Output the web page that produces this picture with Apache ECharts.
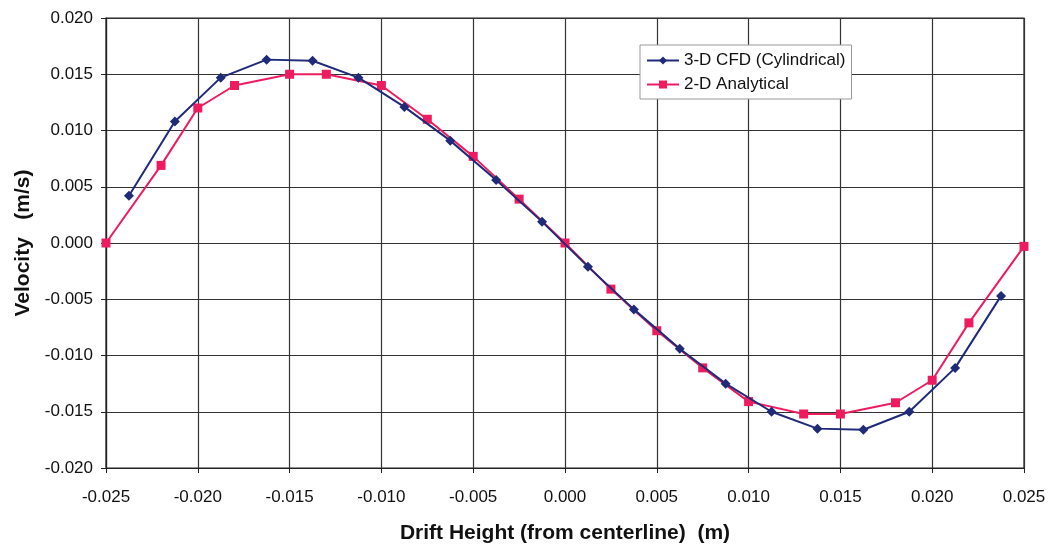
<!DOCTYPE html>
<html>
<head>
<meta charset="utf-8">
<script src="https://cdn.jsdelivr.net/npm/echarts@6/dist/echarts.min.js"></script>
<style>
  html, body { margin: 0; padding: 0; background: #ffffff; }
  #chart { width: 1051px; height: 550px; }
</style>
</head>
<body>
<div id="chart"></div>
<script>
// Drift height positions (m) and velocities (m/s)
const cfdHeight = [-0.02375, -0.02125, -0.01875, -0.01625, -0.01375, -0.01125, -0.00875, -0.00625, -0.00375, -0.00125,
                   0.00125, 0.00375, 0.00625, 0.00875, 0.01125, 0.01375, 0.01625, 0.01875, 0.02125, 0.02375];
const cfdVelocity = [0.0042, 0.0108, 0.0147, 0.0163, 0.0162, 0.0147, 0.0121, 0.0091, 0.0056, 0.0019,
                     -0.0021, -0.0059, -0.0094, -0.0125, -0.0150, -0.0165, -0.0166, -0.0150, -0.0111, -0.0047];

const analyticalHeight = [-0.025, -0.022, -0.020, -0.018, -0.015, -0.013, -0.010, -0.0075, -0.005, -0.0025, 0,
                          0.0025, 0.005, 0.0075, 0.010, 0.013, 0.015, 0.018, 0.020, 0.022, 0.025];
const analyticalVelocity = [0.0000, 0.0069, 0.0120, 0.0140, 0.0150, 0.0150, 0.0140, 0.0110, 0.0077, 0.0039, 0.0000,
                            -0.0041, -0.0078, -0.0111, -0.0141, -0.0152, -0.0152, -0.0142, -0.0122, -0.0071, -0.0003];

const seriesNames = ['3-D CFD (Cylindrical)', '2-D Analytical'];
const xTitle = 'Drift Height (from centerline)  (m)';
const yTitle = 'Velocity   (m/s)';

const pairs = (xs, ys) => xs.map((x, i) => [x, ys[i]]);
const fmt = v => v.toFixed(3);

const chart = echarts.init(document.getElementById('chart'));
const font = 'Liberation Sans, Arial, sans-serif';

chart.setOption({
  backgroundColor: '#ffffff',
  animation: false,
  grid: {
    left: 106, right: 27, top: 18, bottom: 82,
    outerBoundsMode: 'none',
    containLabel: false,
    show: true, borderColor: '#222', borderWidth: 1.2
  },
  legend: {
    left: 640, top: 45,
    orient: 'vertical',
    itemGap: 7,
    itemWidth: 32, itemHeight: 10,
    padding: [7, 6, 6, 6],
    backgroundColor: '#ffffff',
    borderColor: '#999',
    borderWidth: 1,
    textStyle: { fontFamily: font, fontSize: 17, color: '#111' },
    data: seriesNames
  },
  xAxis: {
    type: 'value',
    min: -0.025, max: 0.025, interval: 0.005,
    name: xTitle,
    nameLocation: 'middle',
    nameGap: 55,
    nameTextStyle: { fontFamily: font, fontSize: 21, fontWeight: 'bold', color: '#111' },
    axisLine: { show: true, onZero: false, lineStyle: { color: '#222', width: 1.2 } },
    axisTick: { show: true, length: 5, lineStyle: { color: '#222' } },
    axisLabel: { fontFamily: font, fontSize: 17, color: '#111', margin: 21, formatter: fmt },
    splitLine: { show: true, lineStyle: { color: '#333', width: 1.2 } }
  },
  yAxis: {
    type: 'value',
    min: -0.02, max: 0.02, interval: 0.005,
    name: yTitle,
    nameLocation: 'middle',
    nameGap: 71,
    nameTextStyle: { fontFamily: font, fontSize: 21, fontWeight: 'bold', color: '#111' },
    axisLine: { show: true, onZero: false, lineStyle: { color: '#222', width: 1.2 } },
    axisTick: { show: true, length: 5, lineStyle: { color: '#222' } },
    axisLabel: { fontFamily: font, fontSize: 17, color: '#111', margin: 13, formatter: fmt },
    splitLine: { show: true, lineStyle: { color: '#333', width: 1.2 } }
  },
  series: [
    {
      name: seriesNames[0],
      type: 'line',
      data: pairs(cfdHeight, cfdVelocity),
      symbol: 'diamond',
      symbolSize: 10,
      lineStyle: { color: '#1f2a78', width: 2 },
      itemStyle: { color: '#1f2a78' },
      z: 3
    },
    {
      name: seriesNames[1],
      type: 'line',
      data: pairs(analyticalHeight, analyticalVelocity),
      symbol: 'rect',
      symbolSize: 9,
      lineStyle: { color: '#ec1c5e', width: 2 },
      itemStyle: { color: '#ec1c5e' },
      z: 2
    }
  ]
});
</script>
</body>
</html>
